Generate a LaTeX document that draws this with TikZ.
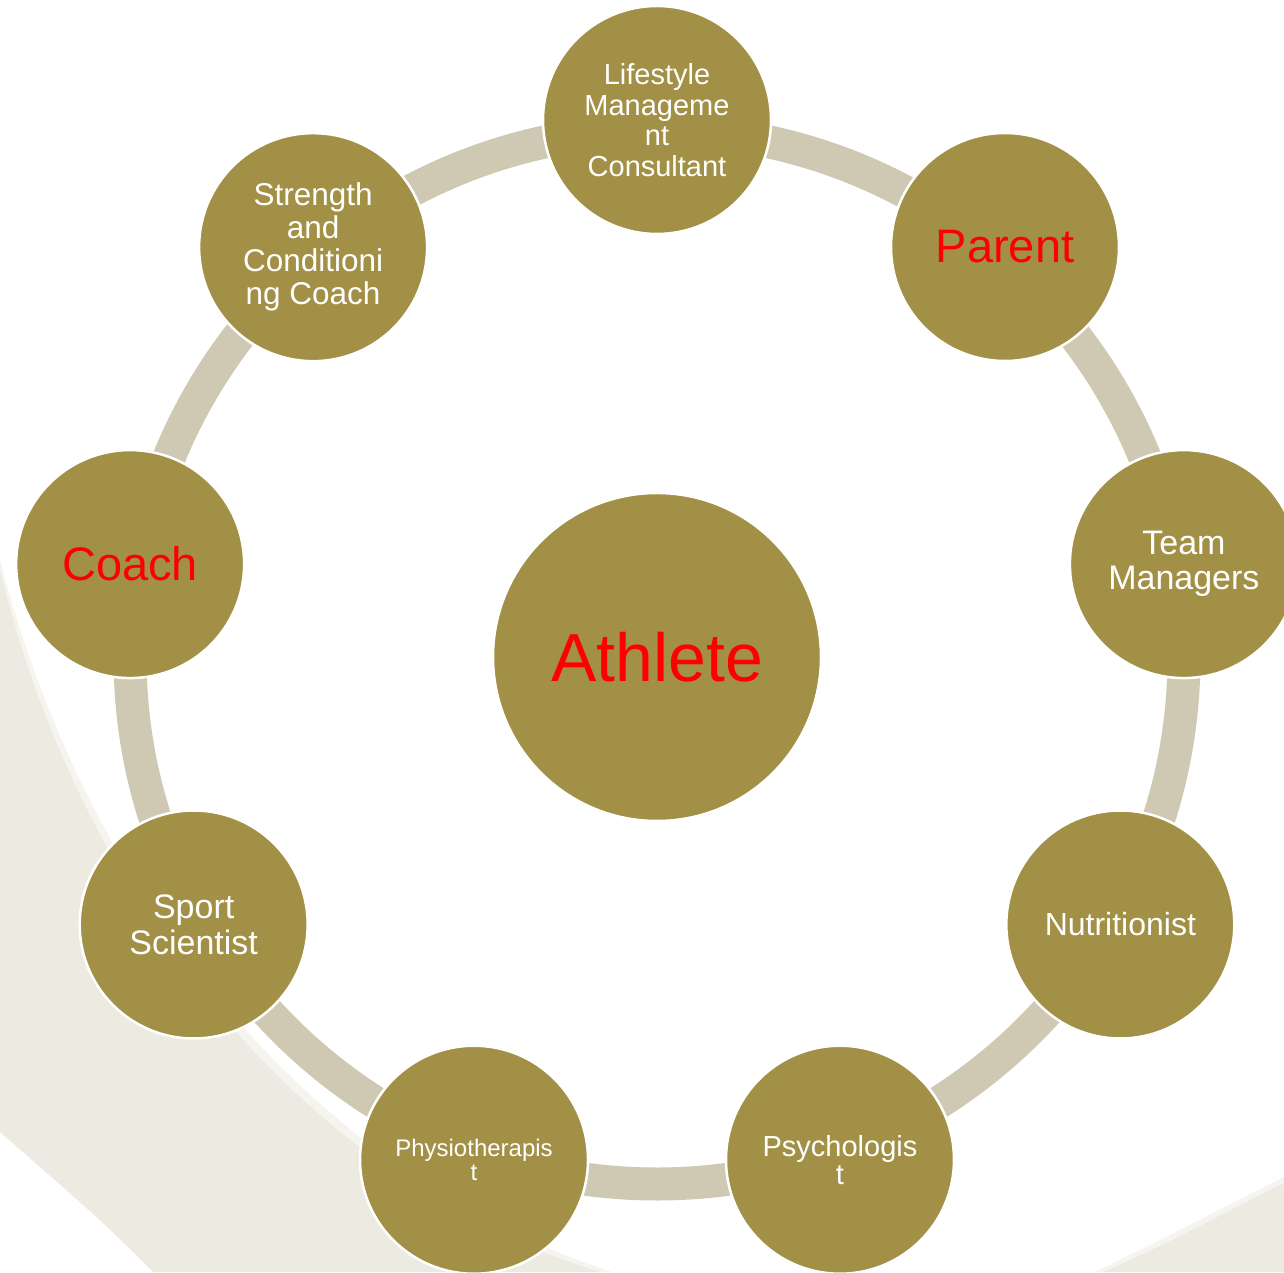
\documentclass[tikz,border=0pt]{standalone}
\usepackage{fontspec}
\setmainfont{Liberation Sans}
\usetikzlibrary{calc}

\definecolor{hubfill}{HTML}{A39047}
\definecolor{ringcol}{HTML}{CFC9B3}
\definecolor{swoosh}{HTML}{EDEAE2}
\definecolor{swooshedge}{HTML}{F6F4EF}
\definecolor{hotred}{HTML}{FF0000}

\begin{document}
\begin{tikzpicture}[x=1pt,y=1pt,
  member/.style={circle, fill=hubfill, draw=white, line width=2.5pt,
    minimum size=228pt, inner sep=0pt, align=center, text=white},
  ringline/.style={draw=ringcol, line width=33pt}]

\useasboundingbox (0,0) rectangle (1284,1272);
\clip (0,0) rectangle (1284,1272);
\fill[white] (0,0) rectangle (1284,1272);

% soft backdrop swooshes
\fill[swooshedge] (0,712) .. controls (87,376) and (306,99) .. (612,0)
  -- (153,0) .. controls (105,50) and (50,96) .. (0,140) -- cycle;
\fill[swoosh] (0,702) .. controls (80,372) and (300,92) .. (600,0)
  -- (153,0) .. controls (105,50) and (50,96) .. (0,140) -- cycle;
\fill[swooshedge] (1284,95) .. controls (1229,68) and (1158,29) .. (1094,0)
  -- (1284,0) -- cycle;
\fill[swoosh] (1284,89) .. controls (1230,62) and (1160,24) .. (1103,0)
  -- (1284,0) -- cycle;

% centre
\node[member, minimum size=328pt, text=hotred,
  font=\fontsize{68}{72}\selectfont] (athlete) at (657,615) {Athlete};

% ring joining the surrounding roles
\draw[ringline] (athlete.center) circle[radius=527];

% surrounding roles
\node[member, font=\fontsize{29}{30.5}\selectfont] (life)
  at ($(athlete.center)+(0,537)$) {Lifestyle\\Manageme\\nt\\Consultant};
\node[member, text=hotred, font=\fontsize{47}{50}\selectfont] (parent)
  at ($(athlete.center)+(348,410)$) {Parent};
\node[member, font=\fontsize{34}{35}\selectfont] (team)
  at ($(athlete.center)+(10:535)$) {Team\\Managers};
\node[member, font=\fontsize{32}{34}\selectfont] (nutri)
  at ($(athlete.center)+(-30:535)$) {Nutritionist};
\node[member, font=\fontsize{29}{28}\selectfont] (psych)
  at ($(athlete.center)+(-70:535)$) {Psychologis\\t};
\node[member, font=\fontsize{24}{24}\selectfont] (physio)
  at ($(athlete.center)+(-110:535)$) {Physiotherapis\\t};
\node[member, font=\fontsize{34}{36}\selectfont] (sport)
  at ($(athlete.center)+(-150:535)$) {Sport\\Scientist};
\node[member, text=hotred, font=\fontsize{47}{50}\selectfont] (coach)
  at ($(athlete.center)+(170:535)$) {Coach};
\node[member, font=\fontsize{31.5}{33}\selectfont] (strength)
  at ($(athlete.center)+(130:535)$) {Strength\\and\\Conditioni\\ng Coach};

\end{tikzpicture}
\end{document}
